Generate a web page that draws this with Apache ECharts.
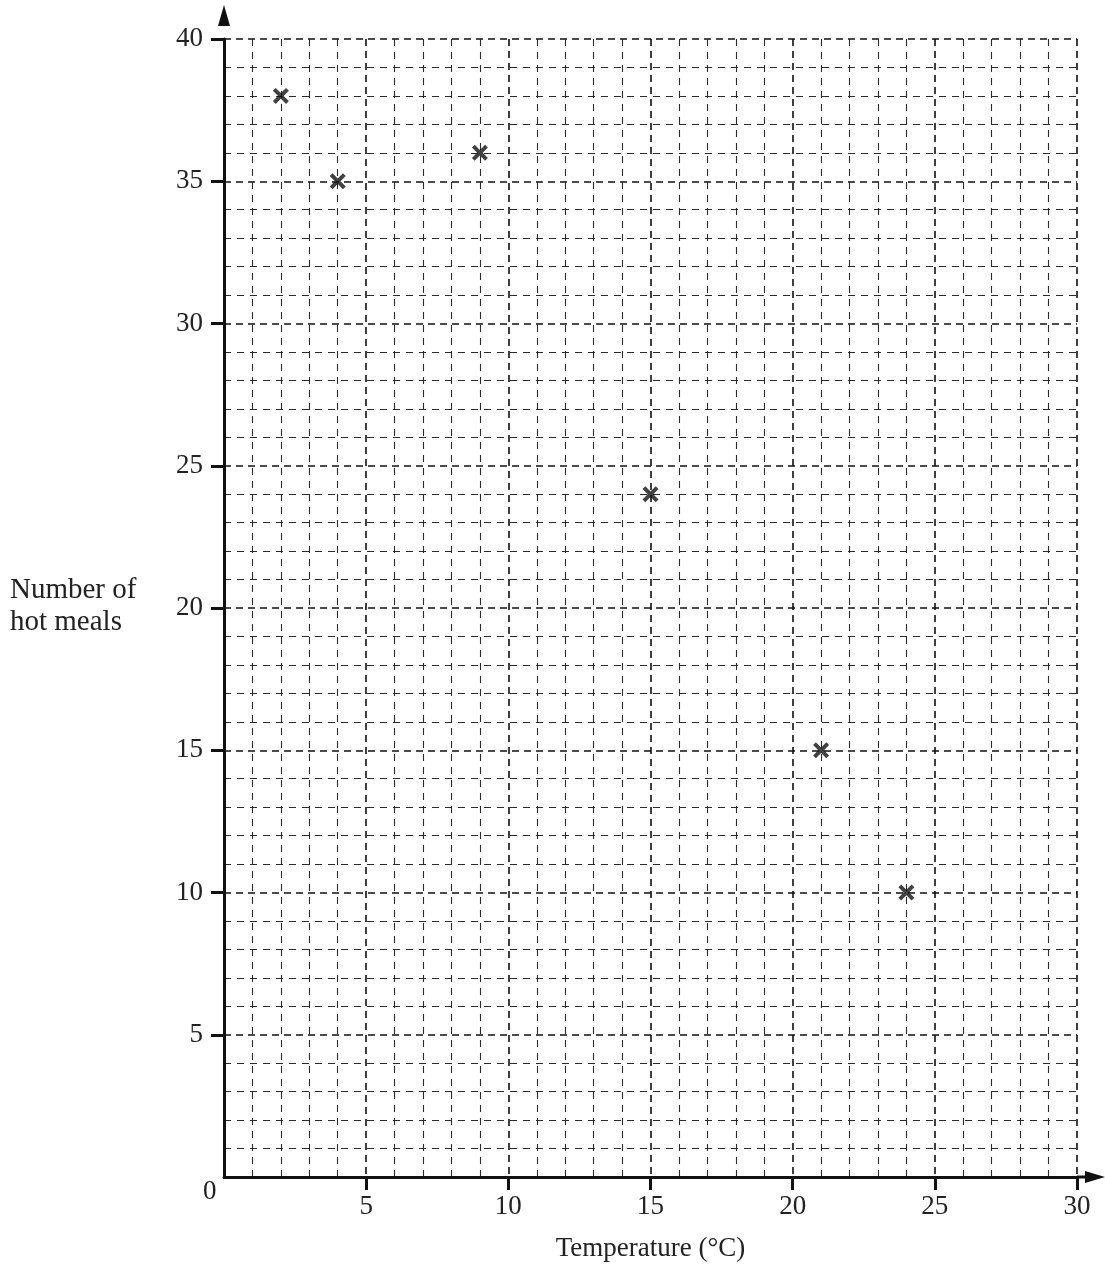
<!DOCTYPE html>
<html>
<head>
<meta charset="utf-8">
<script src="https://cdn.jsdelivr.net/npm/echarts@6/dist/echarts.min.js"></script>
<style>
html,body{margin:0;padding:0;background:#fff;}
#c{width:1105px;height:1267px;}
</style>
</head>
<body>
<div id="c"></div>
<script>
var temperature = [2, 4, 9, 15, 21, 24];
var hotMeals = [38, 35, 36, 24, 15, 10];
var xTitle = 'Temperature (°C)';
var yTitle = 'Number of\nhot meals';

var points = temperature.map(function (t, i) { return [t, hotMeals[i]]; });
var FONT = '"Liberation Serif", "DejaVu Serif", serif';

var chart = echarts.init(document.getElementById('c'));
var axisCommon = {
  min: 0,
  interval: 5,
  axisLine: { show: true, onZero: false, lineStyle: { color: '#111', width: 3 } },
  axisTick: { show: true, inside: false, length: 13, lineStyle: { color: '#111', width: 3 } },
  minorTick: { show: false, splitNumber: 5 },
  splitLine: { show: true, lineStyle: { color: '#111', width: 1.6, type: [7, 5] } },
  minorSplitLine: { show: true, lineStyle: { color: '#2a2a2a', width: 1.1, type: [7, 6] } },
  axisLabel: { showMinLabel: false, color: '#222', fontFamily: FONT, fontSize: 27 }
};
var xAxis = echarts.util.merge({
  type: 'value', max: 30,
  name: xTitle, nameLocation: 'middle', nameGap: 58,
  nameTextStyle: { color: '#222', fontFamily: FONT, fontSize: 27 }
}, echarts.util.clone(axisCommon), true);
xAxis.axisLabel.margin = 16;
var yAxis = echarts.util.merge({ type: 'value', max: 40 }, echarts.util.clone(axisCommon), true);
yAxis.axisLabel.margin = 21;

chart.setOption({
  animation: false,
  backgroundColor: '#fff',
  grid: { left: 224, right: 28, top: 39, bottom: 90, containLabel: false },
  xAxis: xAxis,
  yAxis: yAxis,
  series: [{
    type: 'scatter',
    data: points,
    symbol: 'path://M0,3.5 L3.5,0 L10,6.5 L16.5,0 L20,3.5 L13.5,10 L20,16.5 L16.5,20 L10,13.5 L3.5,20 L0,16.5 L6.5,10 Z',
    symbolSize: 16,
    itemStyle: { color: '#111' },
    z: 10
  }]
});

var o = chart.convertToPixel({ gridIndex: 0 }, [0, 0]);
var top = chart.convertToPixel({ gridIndex: 0 }, [0, 40]);
var right = chart.convertToPixel({ gridIndex: 0 }, [30, 0]);
chart.setOption({
  graphic: [
    { type: 'line', shape: { x1: o[0], y1: top[1], x2: o[0], y2: 20 }, style: { stroke: '#111', lineWidth: 3 }, z: 20 },
    { type: 'polygon', shape: { points: [[o[0], 5], [o[0] - 6, 26], [o[0] + 6, 26]] }, style: { fill: '#111' }, z: 20 },
    { type: 'line', shape: { x1: right[0], y1: o[1], x2: 1092, y2: o[1] }, style: { stroke: '#111', lineWidth: 3 }, z: 20 },
    { type: 'polygon', shape: { points: [[1105, o[1]], [1085, o[1] - 6], [1085, o[1] + 6]] }, style: { fill: '#111' }, z: 20 },
    { type: 'text', left: o[0] - 21, top: o[1] + 1, style: { text: '0', fill: '#222', font: '27px ' + FONT }, z: 20 },
    { type: 'text', left: 10, top: 574, style: { text: yTitle, fill: '#222', font: '29px ' + FONT, lineHeight: 32, textAlign: 'left' }, z: 20 }
  ]
});
</script>
</body>
</html>
